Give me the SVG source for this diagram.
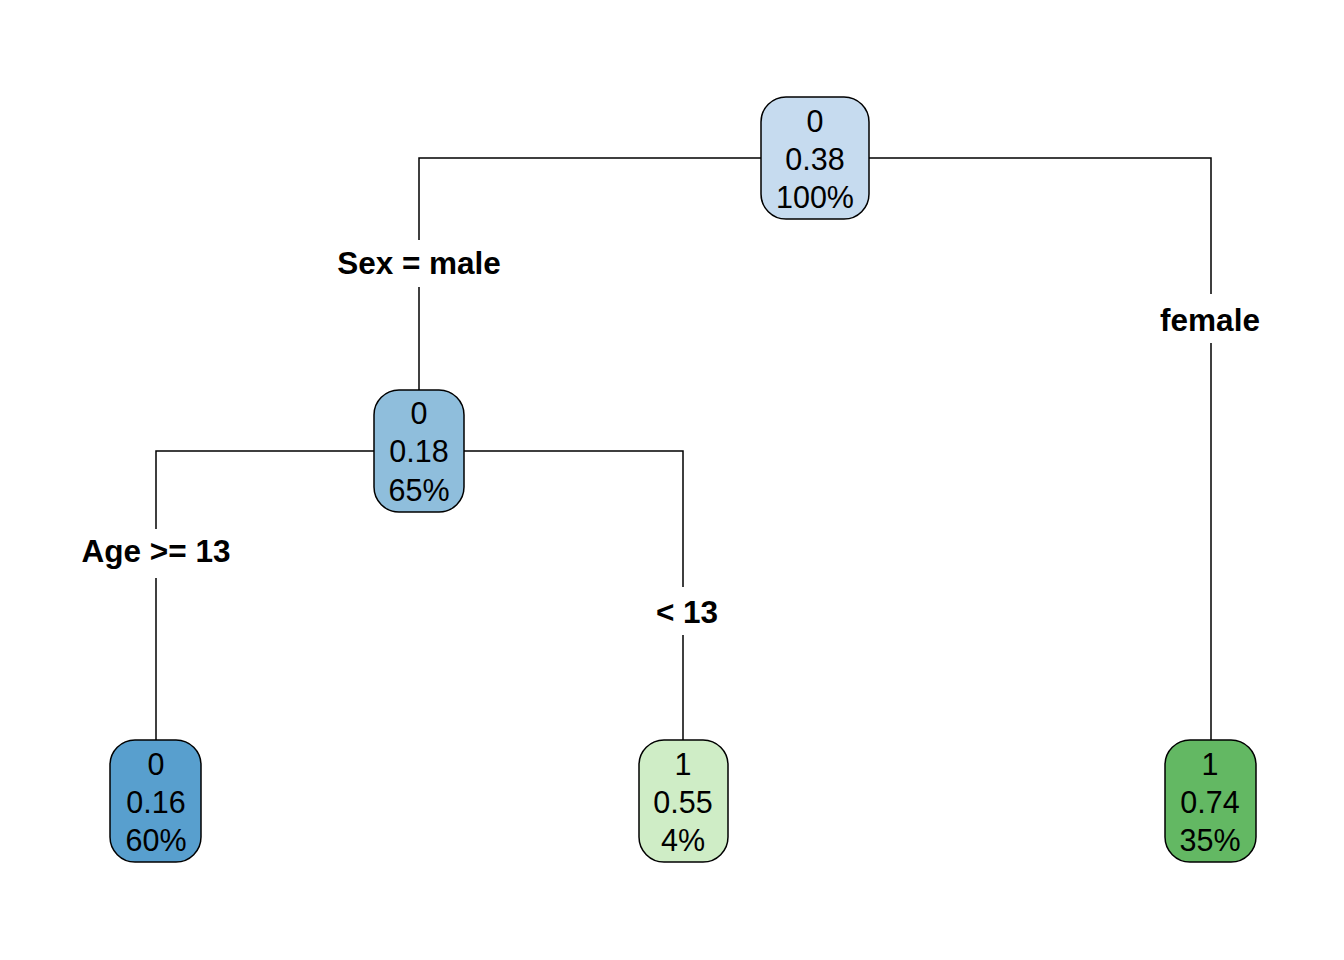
<svg xmlns="http://www.w3.org/2000/svg" width="1344" height="960" viewBox="0 0 1344 960">
<style>
.box{stroke:#000;stroke-width:1.5}
.t{font-family:"Liberation Sans",Arial,sans-serif;font-size:30.5px;fill:#000;text-anchor:middle}
.lbl{font-family:"Liberation Sans",Arial,sans-serif;font-size:31.5px;font-weight:bold;fill:#000;text-anchor:middle}
.edge{fill:none;stroke:#000;stroke-width:1.5}
</style>
<rect width="1344" height="960" fill="#fff"/>
<g id="connectors">
<path class="edge" d="M761,158 H419 V240"/>
<path class="edge" d="M419,287 V390"/>
<path class="edge" d="M869,158 H1211 V294"/>
<path class="edge" d="M1211,343 V740"/>
<path class="edge" d="M374,451 H156 V529"/>
<path class="edge" d="M156,578 V740"/>
<path class="edge" d="M464,451 H683 V587"/>
<path class="edge" d="M683,635 V740"/>
</g>
<g id="edge-labels">
<text class="lbl" x="419" y="274">Sex = male</text>
<text class="lbl" x="1210" y="331">female</text>
<text class="lbl" x="156" y="562">Age &gt;= 13</text>
<text class="lbl" x="687" y="623">&lt; 13</text>
</g>
<g id="node1">
<rect class="box" x="761" y="97" width="108" height="122" rx="25" fill="#C6DBEF"/>
<text class="t" x="815" y="132">0</text>
<text class="t" x="815" y="170">0.38</text>
<text class="t" x="815" y="208">100%</text>
</g>
<g id="node2">
<rect class="box" x="374" y="390" width="90" height="122" rx="25" fill="#8FBEDC"/>
<text class="t" x="419" y="424">0</text>
<text class="t" x="419" y="462">0.18</text>
<text class="t" x="419" y="501">65%</text>
</g>
<g id="node4">
<rect class="box" x="110" y="740" width="91" height="122" rx="25" fill="#589FCE"/>
<text class="t" x="156" y="775">0</text>
<text class="t" x="156" y="813">0.16</text>
<text class="t" x="156" y="851">60%</text>
</g>
<g id="node5">
<rect class="box" x="639" y="740" width="89" height="122" rx="25" fill="#CFEDC6"/>
<text class="t" x="683" y="775">1</text>
<text class="t" x="683" y="813">0.55</text>
<text class="t" x="683" y="851">4%</text>
</g>
<g id="node3">
<rect class="box" x="1165" y="740" width="91" height="122" rx="25" fill="#63B863"/>
<text class="t" x="1210" y="775">1</text>
<text class="t" x="1210" y="813">0.74</text>
<text class="t" x="1210" y="851">35%</text>
</g>
</svg>
